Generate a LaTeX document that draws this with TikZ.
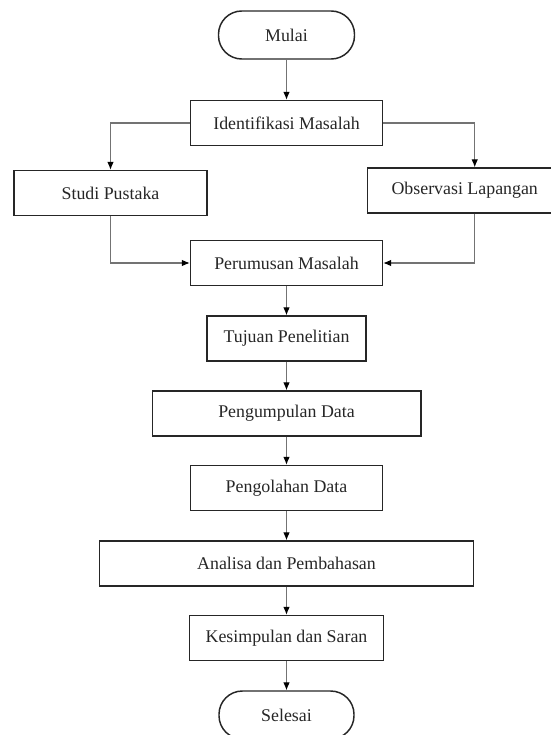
\documentclass[tikz,border=0pt]{standalone}
\usepackage{fontspec}
\setmainfont{Liberation Serif}
\usepackage{tikz}
\usetikzlibrary{arrows.meta,positioning,calc}
\tikzset{
  kotak/.style={rectangle,draw=black!85,line width=1.1pt,minimum height=33.75pt,inner sep=0pt,text=black!85},
  terminal/.style={kotak,rounded corners=17.5pt,minimum height=36pt},
  panah/.style={-{Latex[length=6pt,width=5pt,black]},black!55,line width=0.8pt}
}

\begin{document}
\begin{tikzpicture}[x=0.75pt,y=-0.75pt,font=\fontsize{13.4}{16}\selectfont]
  \useasboundingbox (0,0) rectangle (550,735);
  \node[terminal,minimum width=102pt] (n1) at (286.5,35) {Mulai};
  \node[kotak,minimum width=144pt] (n2) at (286.5,123) {Identifikasi Masalah};
  \node[kotak,minimum width=144.75pt] (n3) at (110.5,193) {Studi Pustaka};
  \node[kotak,minimum width=145.5pt,anchor=west] (n4) at (367,190.5) {Observasi Lapangan};
  \node[kotak,minimum width=144pt] (n5) at (286.5,263) {Perumusan Masalah};
  \node[kotak,minimum width=119.25pt] (n6) at (286.5,338.5) {Tujuan Penelitian};
  \node[kotak,minimum width=201.4pt] (n7) at (286.5,413.5) {Pengumpulan Data};
  \node[kotak,minimum width=144pt] (n8) at (286.5,488) {Pengolahan Data};
  \node[kotak,minimum width=280.2pt] (n9) at (286.5,563.5) {Analisa dan Pembahasan};
  \node[kotak,minimum width=145.5pt] (n10) at (286.5,638) {Kesimpulan dan Saran};
  \node[terminal,minimum width=101.25pt] (n11) at (286.5,715) {Selesai};
  \draw[panah] (n1)--(n2);
  \draw[panah] (n2.west) -| (n3.north);
  \draw[panah] (n2.east) -| ([xshift=7.5pt]n4.north);
  \draw[panah] (n3.south) |- (n5.west);
  \draw[panah] ([xshift=7.5pt]n4.south) |- (n5.east);
  \draw[panah] (n5)--(n6);
  \draw[panah] (n6)--(n7);
  \draw[panah] (n7)--(n8);
  \draw[panah] (n8)--(n9);
  \draw[panah] (n9)--(n10);
  \draw[panah] (n10)--(n11);
\end{tikzpicture}
\end{document}
